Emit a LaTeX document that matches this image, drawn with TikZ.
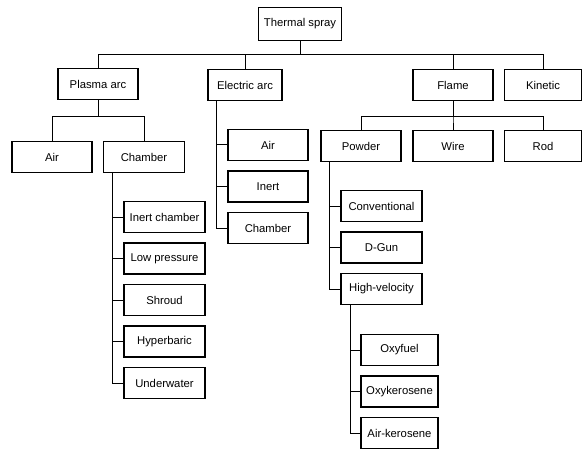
\documentclass[tikz,border=0pt]{standalone}
\usepackage{fontspec}
\setmainfont{Liberation Sans}
\usetikzlibrary{positioning}

\begin{document}
\begin{tikzpicture}[x=1pt, y=-1pt, node distance=41.5pt,
    box/.style={draw, line width=1.5pt, inner sep=0pt, minimum width=80pt, minimum height=31pt, font=\fontsize{11.3}{13}\selectfont},
    link/.style={line width=1pt}]
    \useasboundingbox (0,0) rectangle (583,449);
    % top level
    \node[box, minimum width=83pt, minimum height=33pt] (spray) at (300,24) {Thermal spray};
    \node[box] (plasma) at (98,84) {Plasma arc};
    \node[box, minimum width=74pt] (electric) at (245,85) {Electric arc};
    \node[box] (flame) at (453,85) {Flame};
    \node[box, minimum width=77pt] (kinetic) at (543,85) {Kinetic};
    % plasma arc
    \node[box] (pair) at (52,157) {Air};
    \node[box, minimum width=81pt] (pchamber) at (144,157) {Chamber};
    \node[box, minimum width=81pt] (inertch) at (164.5,217) {Inert chamber};
    \node[box, minimum width=81pt, below of=inertch] (lowpress) {Low pressure};
    \node[box, minimum width=81pt, below of=lowpress] (shroud) {Shroud};
    \node[box, minimum width=81pt, below of=shroud] (hyperbaric) {Hyperbaric};
    \node[box, minimum width=81pt, below of=hyperbaric] (underwater) {Underwater};
    % electric arc
    \node[box] (eair) at (268,145) {Air};
    \node[box, below of=eair] (einert) {Inert};
    \node[box, below of=einert] (echamber) {Chamber};
    % flame
    \node[box] (powder) at (361,146) {Powder};
    \node[box] (wire) at (453,146) {Wire};
    \node[box, minimum width=77pt] (rod) at (543,146) {Rod};
    \node[box, minimum width=81pt] (conventional) at (381.5,206) {Conventional};
    \node[box, minimum width=81pt, below of=conventional] (dgun) {D-Gun};
    \node[box, minimum width=81pt, below of=dgun] (highvel) {High-velocity};
    \node[box, minimum width=77pt] (oxyfuel) at (399.5,350) {Oxyfuel};
    \node[box, minimum width=77pt, below of=oxyfuel] (oxyker) {Oxykerosene};
    \node[box, minimum width=77pt, below of=oxyker] (airker) {Air-kerosene};
    % links
    \draw[link] (spray.south) -- ++(0,13.5) -| (plasma.north);
    \draw[link] (spray.south) -- ++(0,13.5) -| (electric.north);
    \draw[link] (spray.south) -- ++(0,13.5) -| (flame.north);
    \draw[link] (spray.south) -- ++(0,13.5) -| (kinetic.north);
    \draw[link] (plasma.south) -- ++(0,16) -| (pair.north);
    \draw[link] (plasma.south) -- ++(0,16) -| (pchamber.north);
    \draw[link] ([xshift=10pt]pchamber.south west) |- (inertch.west);
    \draw[link] ([xshift=10pt]pchamber.south west) |- (lowpress.west);
    \draw[link] ([xshift=10pt]pchamber.south west) |- (shroud.west);
    \draw[link] ([xshift=10pt]pchamber.south west) |- (hyperbaric.west);
    \draw[link] ([xshift=10pt]pchamber.south west) |- (underwater.west);
    \draw[link] ([xshift=9pt]electric.south west) |- (eair.west);
    \draw[link] ([xshift=9pt]electric.south west) |- (einert.west);
    \draw[link] ([xshift=9pt]electric.south west) |- (echamber.west);
    \draw[link] (flame.south) -- ++(0,15) -| (powder.north);
    \draw[link] (flame.south) -- ++(0,15) -| (wire.north);
    \draw[link] (flame.south) -- ++(0,15) -| (rod.north);
    \draw[link] ([xshift=9pt]powder.south west) |- (conventional.west);
    \draw[link] ([xshift=9pt]powder.south west) |- (dgun.west);
    \draw[link] ([xshift=9pt]powder.south west) |- (highvel.west);
    \draw[link] ([xshift=10pt]highvel.south west) |- (oxyfuel.west);
    \draw[link] ([xshift=10pt]highvel.south west) |- (oxyker.west);
    \draw[link] ([xshift=10pt]highvel.south west) |- (airker.west);
\end{tikzpicture}
\end{document}
